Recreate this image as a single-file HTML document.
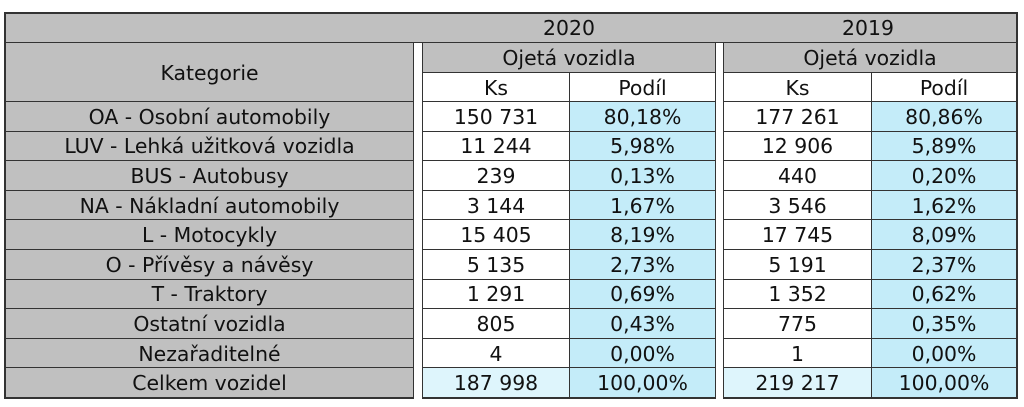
<!DOCTYPE html>
<html><head><meta charset="utf-8"><style>
body{margin:0;width:1024px;height:407px;background:#fff;position:relative;overflow:hidden;font-family:"DejaVu Sans","Liberation Sans",sans-serif;font-size:20.4px;color:#111}
.c{position:absolute;box-sizing:border-box;border:1px solid #333;display:flex;align-items:center;justify-content:center;white-space:nowrap;margin:0;padding-top:1px}
.g{background:#c0c0c0}.b{background:#c4ecf9}.l{background:#def5fc}.w{background:#fff}
</style></head><body>
<div class="c g" style="left:4px;top:12px;width:1014px;height:31px;border-width:2px 2px 1px 2px"></div>
<div style="position:absolute;left:519px;top:16px;width:100px;text-align:center">2020</div>
<div style="position:absolute;left:818px;top:16px;width:100px;text-align:center">2019</div>
<div class="c g" style="left:4px;top:42px;width:410px;height:60px;border-left-width:2px">Kategorie</div>
<div class="c g" style="left:422px;top:42px;width:294px;height:31px">Ojetá vozidla</div>
<div class="c g" style="left:723px;top:42px;width:295px;height:31px;border-right-width:2px">Ojetá vozidla</div>
<div class="c w" style="left:422px;top:72px;width:148px;height:30px">Ks</div>
<div class="c w" style="left:569px;top:72px;width:147px;height:30px">Podíl</div>
<div class="c w" style="left:723px;top:72px;width:149px;height:30px">Ks</div>
<div class="c w" style="left:871px;top:72px;width:147px;height:30px;border-right-width:2px">Podíl</div>
<div id="rows"></div>
<script>
var d=[["OA - Osobní automobily","150 731","80,18%","177 261","80,86%"],
["LUV - Lehká užitková vozidla","11 244","5,98%","12 906","5,89%"],
["BUS - Autobusy","239","0,13%","440","0,20%"],
["NA - Nákladní automobily","3 144","1,67%","3 546","1,62%"],
["L - Motocykly","15 405","8,19%","17 745","8,09%"],
["O - Přívěsy a návěsy","5 135","2,73%","5 191","2,37%"],
["T - Traktory","1 291","0,69%","1 352","0,62%"],
["Ostatní vozidla","805","0,43%","775","0,35%"],
["Nezařaditelné","4","0,00%","1","0,00%"],
["Celkem vozidel","187 998","100,00%","219 217","100,00%"]];
var h="",rh=29.6;
d.forEach(function(r,i){var y=101+i*rh,H=rh+1,last=i==9,bb=last?"border-bottom-width:2px;":"",hh=last?H+1:H;
var k=last?"l":"w";
h+='<div class="c g" style="left:4px;top:'+y+'px;width:410px;height:'+hh+'px;border-left-width:2px;'+bb+'">'+r[0]+'</div>';
h+='<div class="c '+k+'" style="left:422px;top:'+y+'px;width:148px;height:'+hh+'px;'+bb+'">'+r[1]+'</div>';
h+='<div class="c b" style="left:569px;top:'+y+'px;width:147px;height:'+hh+'px;'+bb+'">'+r[2]+'</div>';
h+='<div class="c '+k+'" style="left:723px;top:'+y+'px;width:149px;height:'+hh+'px;'+bb+'">'+r[3]+'</div>';
h+='<div class="c b" style="left:871px;top:'+y+'px;width:147px;height:'+hh+'px;border-right-width:2px;'+bb+'">'+r[4]+'</div>';});
document.getElementById("rows").innerHTML=h;
</script>
</body></html>
